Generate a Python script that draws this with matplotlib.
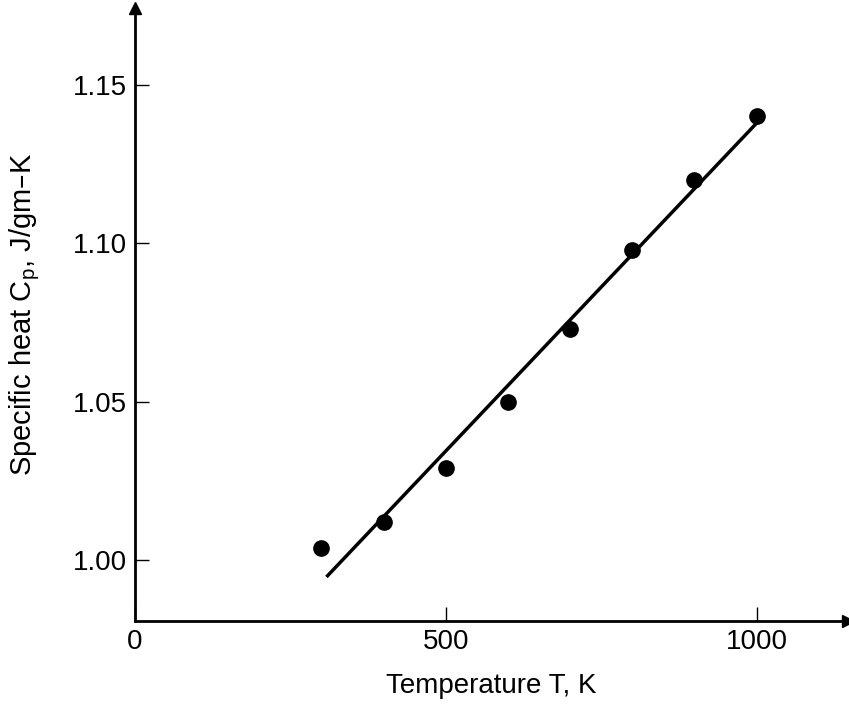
import numpy as np
import matplotlib.pyplot as plt

plt.rcParams['font.family'] = ['Liberation Sans', 'DejaVu Sans']

# measured specific heat vs temperature
temp_K = [300, 400, 500, 600, 700, 800, 900, 1000]
cp = [1.004, 1.012, 1.029, 1.050, 1.073, 1.098, 1.120, 1.140]

# straight-line fit drawn through the data (end points)
fit_T = [308, 1000]
fit_cp = [0.9948, 1.1379]

xticks = [0, 500, 1000]
yticks = [1.00, 1.05, 1.10, 1.15]

fig = plt.figure(figsize=(8.49, 7.08), dpi=100)
ax = fig.add_axes([0.159, 0.1233, 0.8398, 0.8654])

ax.plot(fit_T, fit_cp, color='black', lw=2.5, solid_capstyle='butt')
ax.plot(temp_K, cp, 'o', color='black', ms=11)

ax.set_xlim(0, 1147)
ax.set_ylim(0.981, 1.1742)
ax.set_xticks(xticks)
ax.set_xticklabels([str(t) for t in xticks])
ax.set_yticks(yticks)
ax.set_yticklabels(['%.2f' % v for v in yticks])

ax.spines['top'].set_visible(False)
ax.spines['right'].set_visible(False)
for s in ('left', 'bottom'):
    ax.spines[s].set_linewidth(2)

ax.tick_params(direction='in', length=10, width=1, labelsize=20, pad=6)

# arrow heads at the ends of the axes
ax.plot(1, 0, '>', color='black', ms=9, transform=ax.transAxes, clip_on=False)
ax.plot(0, 1, '^', color='black', ms=9, transform=ax.transAxes, clip_on=False)

ax.set_xlabel('Temperature T, K', fontsize=20, labelpad=13)
ax.set_ylabel('Specific heat C$_\\mathregular{p}$, J/gm\u2013K', fontsize=21, labelpad=22)

fig.savefig('out.png', dpi=100)
